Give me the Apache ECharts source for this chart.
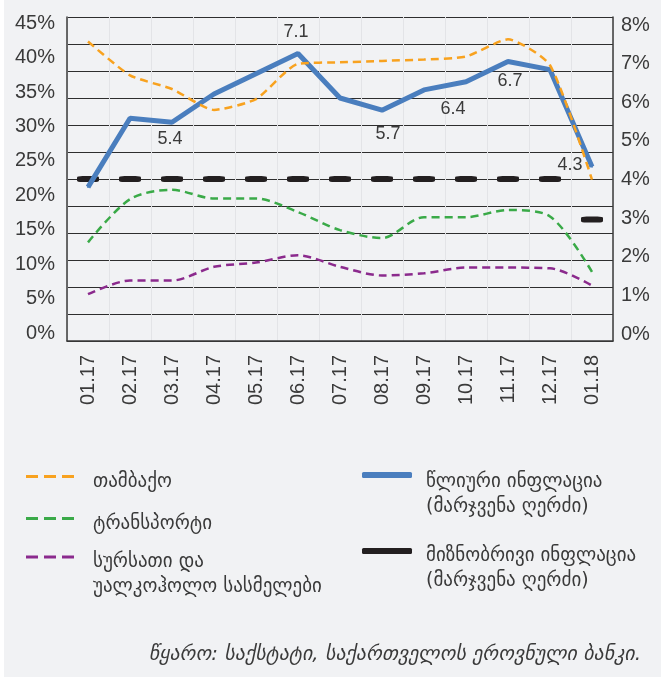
<!DOCTYPE html>
<html>
<head>
<meta charset="utf-8">
<script src="https://cdn.jsdelivr.net/npm/echarts@6/dist/echarts.min.js"></script>
<style>
    html, body { margin: 0; padding: 0; background: #ffffff; }
    #grafica_inflacion { position: absolute; left: 4px; top: 0; width: 657px; height: 677px; background: #f1f2f4; }
</style>
</head>
<body>
<div id="grafica_inflacion"></div>
<script>
    // datos
    var meses = ['01.17', '02.17', '03.17', '04.17', '05.17', '06.17', '07.17',
                 '08.17', '09.17', '10.17', '11.17', '12.17', '01.18'];

    // eje izquierdo (%)
    var tabaco      = [41.6, 36.9, 35.0, 32.1, 33.6, 38.5, 38.7, 38.9, 39.1, 39.5, 41.9, 38.3, 22.4];
    var transporte  = [13.7, 19.7, 21.0, 19.8, 19.8, 17.9, 15.4, 14.3, 17.2, 17.2, 18.2, 17.3, 9.6];
    var alimentos   = [6.5, 8.4, 8.4, 10.3, 10.9, 11.9, 10.3, 9.1, 9.4, 10.2, 10.2, 10.1, 7.7];

    // eje derecho (%)
    var inflacion_anual    = [3.8, 5.5, 5.4, 6.1, 6.6, 7.1, 6.0, 5.7, 6.2, 6.4, 6.9, 6.7, 4.3];
    var inflacion_objetivo = [4, 4, 4, 4, 4, 4, 4, 4, 4, 4, 4, 4, 3];

    // marcas de los ejes
    var marcas_izq = [0, 5, 10, 15, 20, 25, 30, 35, 40, 45];
    var marcas_der = [0, 1, 2, 3, 4, 5, 6, 7, 8];

    var nombres = {
        tabaco: 'თამბაქო',
        transporte: 'ტრანსპორტი',
        alimentos: 'სურსათი და\nუალკოჰოლო სასმელები',
        anual: 'წლიური ინფლაცია\n(მარჯვენა ღერძი)',
        objetivo: 'მიზნობრივი ინფლაცია\n(მარჯვენა ღერძი)'
    };
    var fuente = 'წყარო: საქსტატი, საქართველოს ეროვნული ბანკი.';

    // desplazamiento de las etiquetas de la inflacion anual (indice -> [dx, dy])
    var etiquetas_anual = { 2: [-2, 17], 5: [-2, -21], 7: [6, 24], 9: [-13, 27], 11: [-40, 11], 12: [-22, -2] };

    var fuenteEje = 'Liberation Sans, Arial, sans-serif';
    var fuenteGeo = 'DejaVu Sans, Noto Sans, sans-serif';
    var colorTexto = '#3a3a3a';
    var iconoGuiones = 'path://M0,0h12v3h-12zM18,0h12v3h-12zM36,0h12v3h-12z';

    var datosAnual = inflacion_anual.map(function (v, i) {
        var d = { value: v };
        if (etiquetas_anual[i]) {
            d.label = { show: true, position: 'inside', offset: etiquetas_anual[i] };
        }
        return d;
    });

    // el icono queda centrado en el bloque de texto; con una linea vacia arriba
    // (alto "espacio") el texto baja respecto al icono
    function leyenda(nombre, izq, arriba, icono, ancho, alto, relleno, espacio) {
        return {
            data: [nombre],
            left: izq, top: arriba,
            padding: 0,
            icon: icono,
            itemWidth: ancho, itemHeight: alto,
            selectedMode: false,
            formatter: function (n) {
                var lineas = n.split('\n').map(function (l) { return '{t|' + l + '}'; });
                return '{e| }\n' + lineas.join('\n');
            },
            textStyle: {
                color: colorTexto,
                padding: [0, 0, 0, relleno],
                rich: {
                    e: { fontSize: 10, lineHeight: espacio },
                    t: { fontFamily: fuenteGeo, fontSize: 19, lineHeight: 25, color: colorTexto }
                }
            }
        };
    }

    function ejeEtiquetas(pos, minimo, maximo, valores, margen) {
        return {
            type: 'value', position: pos,
            min: minimo, max: maximo,
            axisLine: { show: false },
            axisTick: { show: false },
            splitLine: { show: false },
            axisLabel: {
                customValues: valores, formatter: '{value}%', margin: margen,
                fontSize: 20, fontFamily: fuenteEje, color: colorTexto
            }
        };
    }

    var grafica = echarts.init(document.getElementById('grafica_inflacion'));
    grafica.setOption({
        animation: false,
        backgroundColor: '#f1f2f4',
        grid: { left: 63, right: 48, top: 17, bottom: 336 },
        legend: [
            leyenda(nombres.tabaco, 22, 459, iconoGuiones, 48, 3, 14, 11),
            leyenda(nombres.transporte, 22, 501, iconoGuiones, 48, 3, 14, 11),
            leyenda(nombres.alimentos, 22, 527, iconoGuiones, 48, 3, 14, 35),
            leyenda(nombres.anual, 358, 445, 'roundRect', 50, 6, 9, 39),
            leyenda(nombres.objetivo, 358, 521, 'roundRect', 50, 6, 9, 35)
        ],
        xAxis: [{
            type: 'category',
            data: meses,
            boundaryGap: true,
            axisLine: { show: true, lineStyle: { color: '#3a3a3a', width: 1.5 } },
            axisTick: { show: false },
            splitLine: { show: true, lineStyle: { color: '#e3e4e7', width: 1 } },
            axisLabel: {
                rotate: 90, margin: 14, fontSize: 20,
                fontFamily: fuenteEje, color: colorTexto
            }
        }],
        yAxis: [{
            type: 'value', position: 'left',
            min: 0, max: 45, interval: 5,
            axisLine: { show: true, lineStyle: { color: '#3a3a3a', width: 1.5 } },
            axisTick: { show: false },
            splitLine: { show: false },
            axisLabel: { show: false }
        }, {
            type: 'value', position: 'right',
            min: 0, max: 8, interval: 1,
            axisLine: { show: true, lineStyle: { color: '#3a3a3a', width: 1.5 } },
            axisTick: { show: false },
            splitLine: { show: false },
            axisLabel: { show: false }
        }, {
            // solo para las lineas de la cuadricula
            type: 'value', position: 'left',
            min: 0, max: 12, interval: 1,
            axisLine: { show: false },
            axisTick: { show: false },
            axisLabel: { show: false },
            splitLine: { show: true, lineStyle: { color: '#2e2e2e', width: 1 } }
        },
            // etiquetas un poco comprimidas, como en el original
            ejeEtiquetas('left', -1.16, 45.92, marcas_izq, 12),
            ejeEtiquetas('right', -0.18, 8.21, marcas_der, 8)
        ],
        graphic: [{
            type: 'text',
            right: 20, top: 645,
            style: {
                text: fuente,
                font: 'italic 20px DejaVu Sans, Noto Sans, sans-serif',
                fill: colorTexto
            }
        }],
        series: [{
            name: nombres.objetivo,
            type: 'line',
            yAxisIndex: 1,
            data: inflacion_objetivo,
            symbol: 'roundRect',
            symbolSize: [22, 6],
            showSymbol: true,
            lineStyle: { width: 0, opacity: 0 },
            itemStyle: { color: '#231f20' },
            z: 2
        }, {
            name: nombres.transporte,
            type: 'line',
            yAxisIndex: 0,
            data: transporte,
            smooth: 0.3,
            showSymbol: false,
            lineStyle: { color: '#3aaa48', width: 2.5, type: [8, 5] },
            itemStyle: { color: '#3aaa48' },
            z: 3
        }, {
            name: nombres.alimentos,
            type: 'line',
            yAxisIndex: 0,
            data: alimentos,
            smooth: 0.3,
            showSymbol: false,
            lineStyle: { color: '#8b2a8d', width: 2.5, type: [8, 5] },
            itemStyle: { color: '#8b2a8d' },
            z: 3
        }, {
            name: nombres.anual,
            type: 'line',
            yAxisIndex: 1,
            data: datosAnual,
            symbol: 'circle',
            symbolSize: 2,
            showSymbol: true,
            lineStyle: { color: '#4a7ebe', width: 5 },
            itemStyle: { color: '#4a7ebe' },
            label: {
                show: false,
                formatter: function (p) { return p.value.toFixed(1); },
                fontSize: 18, fontFamily: fuenteEje, color: colorTexto
            },
            z: 4
        }, {
            name: nombres.tabaco,
            type: 'line',
            yAxisIndex: 0,
            data: tabaco,
            smooth: 0.2,
            showSymbol: false,
            lineStyle: { color: '#f8a21f', width: 2.5, type: [8, 5] },
            itemStyle: { color: '#f8a21f' },
            z: 5
        }]
    });
</script>
</body>
</html>
